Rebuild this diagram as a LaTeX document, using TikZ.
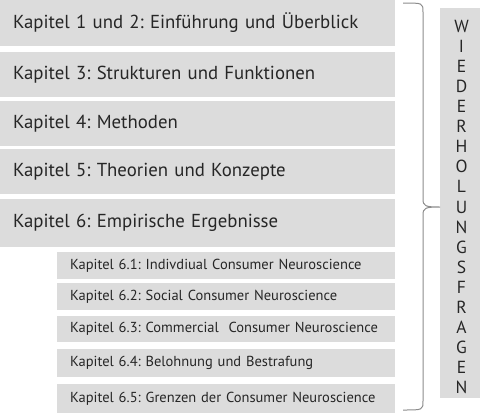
\documentclass[tikz,border=0pt]{standalone}
\usepackage{fontspec}
\setmainfont{PT Sans}[WordSpace=0.85]
\frenchspacing
\definecolor{boxgray}{HTML}{DCDCDC}
\definecolor{txtgray}{HTML}{262626}
\definecolor{bracegray}{HTML}{8C8C8C}
\tikzset{
  bigbox/.style={anchor=north west, fill=boxgray, text=txtgray, inner xsep=13pt, inner ysep=0pt,
    text width=369pt, align=left, font=\fontsize{18.8}{21}\selectfont},
  smallbox/.style={anchor=north west, fill=boxgray, text=txtgray, inner xsep=13pt, inner ysep=0pt,
    text width=312pt, align=left, font=\fontsize{14.5}{16}\selectfont},
  bracepath/.style={draw=bracegray, line width=1pt}
}
\begin{document}
\begin{tikzpicture}[x=1pt,y=-1pt]
\useasboundingbox (0,0) rectangle (488,413);
\node[bigbox, minimum height=45.5pt] (k1) at (0,0) {Kapitel 1 und 2: Einführung und Überblick};
\node[bigbox, minimum height=45pt] (k3) at (0,52) {Kapitel 3: Strukturen und Funktionen};
\node[bigbox, minimum height=45pt] (k4) at (0,101) {Kapitel 4: Methoden};
\node[bigbox, minimum height=45pt] (k5) at (0,149) {Kapitel 5: Theorien und Konzepte};
\node[bigbox, minimum height=48pt] (k6) at (0,199) {Kapitel 6: Empirische Ergebnisse};
\node[smallbox, minimum height=27pt] (k61) at (57,252) {Kapitel 6.1: Indivdiual Consumer Neuroscience};
\node[smallbox, minimum height=27pt] (k62) at (57,283) {Kapitel 6.2: Social Consumer Neuroscience};
\node[smallbox, minimum height=26pt] (k63) at (57,316) {Kapitel 6.3: Commercial\ \ Consumer Neuroscience};
\node[smallbox, minimum height=28pt] (k64) at (57,349) {Kapitel 6.4: Belohnung und Bestrafung};
\node[smallbox, minimum height=29pt] (k65) at (57,384) {Kapitel 6.5: Grenzen der Consumer Neuroscience};
\node[anchor=north west, fill=boxgray, minimum width=40pt, minimum height=390pt, inner sep=0pt] (wbox) at (440,8) {};
\node[text=txtgray, align=center, inner sep=0pt, font=\fontsize{17.5}{20.1}\selectfont] (wtext) at (461.5,207)
  {W\\I\\E\\D\\E\\R\\H\\O\\L\\U\\N\\G\\S\\F\\R\\A\\G\\E\\N};
\coordinate (btop) at (403,3);
\coordinate (bbot) at (403,410);
\coordinate (btip) at (wbox.west |- 0,207);
\draw[bracepath] (btop) .. controls (423,3) and (423,3) .. (423,12) -- (423,199)
  .. controls (423,206) and (425,207) .. (btip)
  .. controls (425,207) and (423,208) .. (423,215) -- (423,401)
  .. controls (423,410) and (423,410) .. (bbot);
\end{tikzpicture}
\end{document}
